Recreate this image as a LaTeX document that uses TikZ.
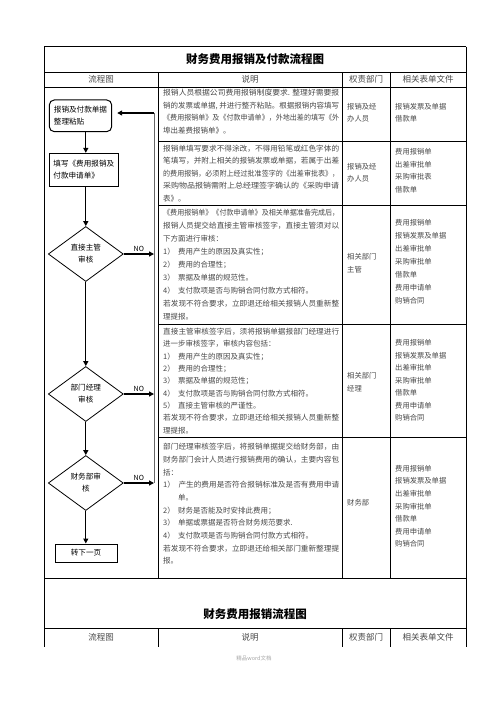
\documentclass[tikz,border=0pt]{standalone}
\usepackage{fontspec}
\setmainfont{Noto Sans CJK SC}
\usetikzlibrary{shapes.geometric,arrows.meta}
\definecolor{txt}{gray}{0.28}
\newcommand\dfont[1]{\fontsize{7.5}{#1}\selectfont}
\newcommand\rfont[1]{\fontsize{7.3}{#1}\selectfont}
\newcommand\nb[1]{\makebox[15pt][l]{#1）}}
\newcommand\fl[1]{\resizebox{176pt}{\height}{#1}}
\begin{document}
\begin{tikzpicture}[x=1pt,y=-1pt,
  grid/.style={line width=0.7pt,black},
  desc/.style={anchor=north west,inner sep=0pt,align=left,text=txt},
  hdr/.style={inner sep=0pt,text=txt,font=\fontsize{8.5}{10}\selectfont},
  ttl/.style={inner sep=0pt,font=\bfseries\fontsize{11.5}{13}\selectfont},
  flowbox/.style={draw,line width=1pt,inner sep=0pt,align=left,font=\fontsize{7.6}{12.2}\selectfont},
  dec/.style={draw,diamond,line width=0.8pt,minimum width=75pt,minimum height=55pt,inner sep=0pt,align=center,font=\fontsize{7.6}{12}\selectfont},
  arr/.style={line width=1.3pt,-{Triangle[length=5pt,width=5pt]}},
  fbline/.style={line width=0.8pt,black!60},
  nolab/.style={font=\fontsize{7}{8}\selectfont,inner sep=1.5pt,above}
]
\useasboundingbox (0,0) rectangle (496,702);
% ---------- table ----------
\draw[grid] (44,46.7) -- (466,46.7);
\draw[grid] (44,72.3) -- (466,72.3);
\draw[grid] (44,87) -- (466,87);
\foreach \yy in {141,205,324,437} \draw[grid] (158,\yy) -- (466,\yy);
\draw[grid] (44,578) -- (466,578);
\draw[grid] (44,628) -- (466,628);
\draw[grid] (44,46.7) -- (44,647);
\draw[grid] (466,46.7) -- (466,647);
\foreach \xx in {158,342,390} {
  \draw[grid] (\xx,72.3) -- (\xx,578);
  \draw[grid] (\xx,628) -- (\xx,647);
}
% titles and headers
\node[ttl] (title1) at (255,59.5) {财务费用报销及付款流程图};
\node[hdr] (h1a) at (101,79.7) {流程图};
\node[hdr] (h1b) at (250,79.7) {说明};
\node[hdr] (h1c) at (366,79.7) {权责部门};
\node[hdr] (h1d) at (428,79.7) {相关表单文件};
\node[ttl] (title2) at (255,614) {财务费用报销流程图};
\node[hdr] (h2a) at (101,637.5) {流程图};
\node[hdr] (h2b) at (250,637.5) {说明};
\node[hdr] (h2c) at (366,637.5) {权责部门};
\node[hdr] (h2d) at (428,637.5) {相关表单文件};
\node[inner sep=0pt,text=black!35,font=\fontsize{5.5}{6}\selectfont] (foot) at (254,658) {精品word文档};
% ---------- description column ----------
\node[desc,font=\dfont{12.5}] (t1) at (163,89) {\fl{报销人员根据公司费用报销制度要求. 整理好需要报}\\\fl{销的发票或单据, 并进行整齐粘贴。根据报销内容填写}\\\fl{《费用报销单》及《付款申请单》，外地出差的填写《外}\\埠出差费报销单》。};
\node[desc,font=\dfont{12.5}] (t2) at (163,144.5) {\fl{报销单填写要求不得涂改，不得用铅笔或红色字体的}\\\fl{笔填写，并附上相关的报销发票或单据，若属于出差}\\\fl{的费用报销，必须附上经过批准签字的《出差审批表》，}\\\fl{采购物品报销需附上总经理签字确认的《采购申请}\\表》。};
\node[desc,font=\dfont{12.9}] (t3) at (163,209.4) {\fl{《费用报销单》《付款申请单》及相关单据准备完成后，}\\\fl{报销人员提交给直接主管审核签字，直接主管须对以}\\下方面进行审核：\\\nb{1}费用产生的原因及真实性；\\\nb{2}费用的合理性；\\\nb{3}票据及单据的规范性。\\\nb{4}支付款项是否与购销合同付款方式相符。\\\fl{若发现不符合要求，立即退还给相关报销人员重新整}\\理提报。};
\node[desc,font=\dfont{12.3}] (t4) at (163,328.1) {\fl{直接主管审核签字后，须将报销单据报部门经理进行}\\进一步审核签字，审核内容包括：\\\nb{1}费用产生的原因及真实性；\\\nb{2}费用的合理性；\\\nb{3}票据及单据的规范性；\\\nb{4}支付款项是否与购销合同付款方式相符。\\\nb{5}直接主管审核的严谨性。\\\fl{若发现不符合要求，立即退还给相关报销人员重新整}\\理提报。};
\node[desc,font=\dfont{12.7}] (t5) at (163,443.1) {\fl{部门经理审核签字后，将报销单据提交给财务部，由}\\\fl{财务部门会计人员进行报销费用的确认，主要内容包}\\括：\\\fl{\nb{1}产生的费用是否符合报销标准及是否有费用申请}\\\hspace*{15pt}单。\\\nb{2}财务是否能及时安排此费用；\\\nb{3}单据或票据是否符合财务规范要求.\\\nb{4}支付款项是否与购销合同付款方式相符。\\\fl{若发现不符合要求，立即退还给相关部门重新整理提}\\报。};
% ---------- department column ----------
\node[desc,font=\rfont{12.6}] (p1) at (347,103) {报销及经\\办人员};
\node[desc,font=\rfont{12.6}] (p2) at (347,163) {报销及经\\办人员};
\node[desc,font=\rfont{13}] (p3) at (347,253.1) {相关部门\\主管};
\node[desc,font=\rfont{12.6}] (p4) at (347,372.4) {相关部门\\经理};
\node[desc,font=\rfont{12.6}] (p5) at (347,499.4) {财务部};
% ---------- forms column ----------
\node[desc,font=\rfont{12.6}] (f1) at (395,103) {报销发票及单据\\借款单};
\node[desc,font=\rfont{12.7}] (f2) at (395,148.1) {费用报销单\\出差审批单\\采购审批表\\借款单};
\node[desc,font=\rfont{13}] (f3) at (395,219.4) {费用报销单\\报销发票及单据\\出差审批单\\采购审批单\\借款单\\费用申请单\\购销合同};
\node[desc,font=\rfont{12.5}] (f4) at (395,339.4) {费用报销单\\报销发票及单据\\出差审批单\\采购审批单\\借款单\\费用申请单\\购销合同};
\node[desc,font=\rfont{12.6}] (f5) at (395,464.9) {费用报销单\\报销发票及单据\\出差审批单\\采购审批单\\借款单\\费用申请单\\购销合同};
% ---------- flowchart ----------
\node[flowbox,rounded corners=5pt,minimum width=62.4pt,minimum height=31.7pt] (start) at (80.5,115.8) {报销及付款单据\\整理粘贴};
\node[flowbox,minimum width=69pt,minimum height=32.7pt] (fill) at (83.8,169.7) {填写《费用报销及\\付款申请单》};
\node[dec] (d1) at (85.8,254) {直接主管\\审核};
\node[dec] (d2) at (85.8,394) {部门经理\\审核};
\node[dec] (d3) at (85.8,483) {财务部审\\核};
\node[flowbox,align=center,minimum width=62pt,minimum height=18pt] (next) at (86,553) {转下一页};
\coordinate (fbtop) at (154,113);
\coordinate (fb1) at (154,254);
\coordinate (fb2) at (154,394);
\coordinate (fb3) at (154,483);
\draw[arr] (start.south -| d1) -- (fill.north -| d1);
\draw[arr] (fill.south -| d1) -- (d1.north);
\draw[arr] (d1.south) -- (d2.north);
\draw[arr] (d2.south) -- (d3.north);
\draw[arr] (d3.south) -- (next.north -| d3);
\draw[arr] (d1.east) -- node[nolab]{NO} (fb1);
\draw[arr] (d2.east) -- node[nolab]{NO} (fb2);
\draw[arr] (d3.east) -- node[nolab]{NO} (fb3);
\draw[fbline] (fb3) -- (fbtop);
\draw[arr,shorten >=5pt] (fbtop) -- (start.east |- fbtop);
\end{tikzpicture}
\end{document}
